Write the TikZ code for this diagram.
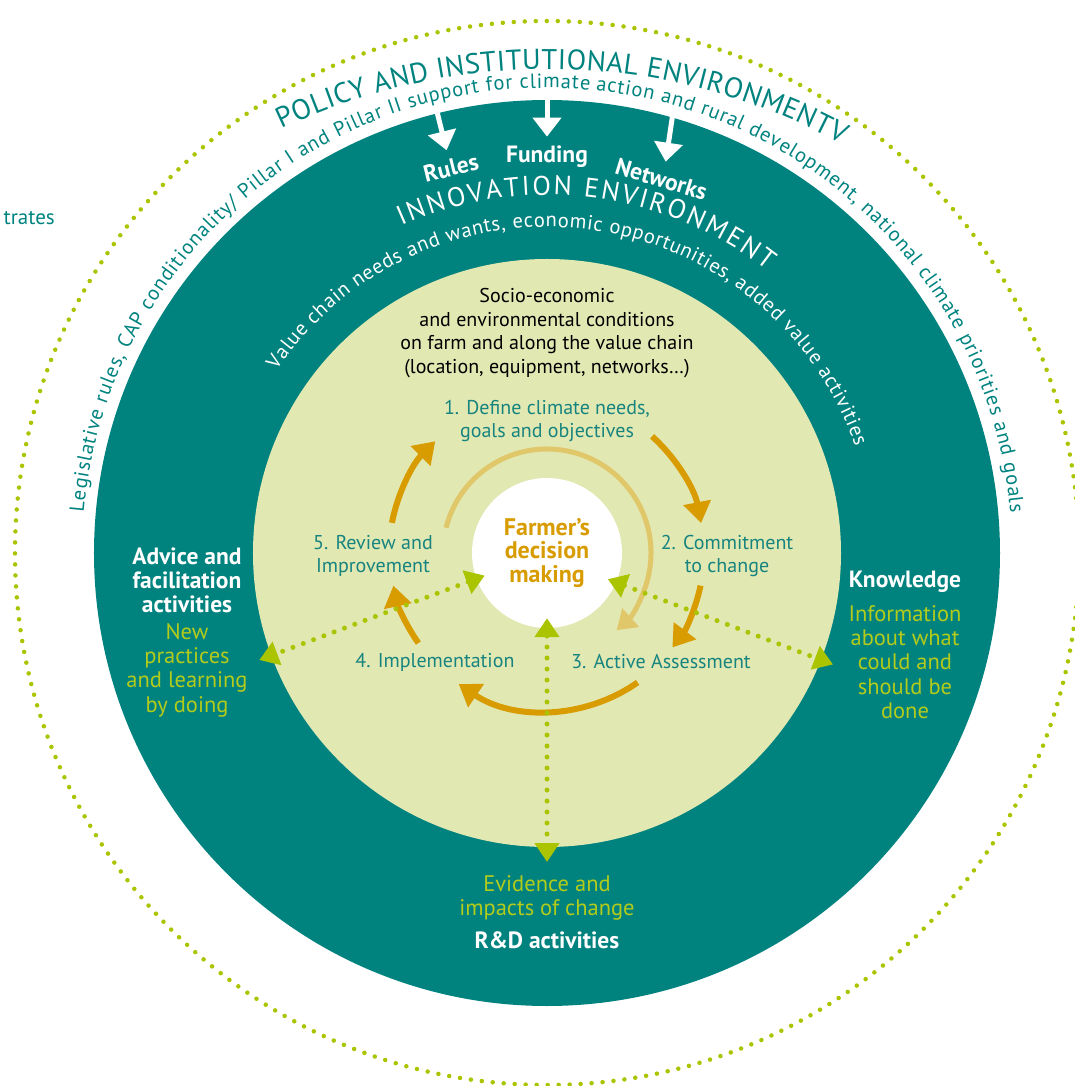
\documentclass[tikz,border=0pt]{standalone}
\usepackage{fontspec}
\setmainfont{PT Sans}
\usetikzlibrary{arrows.meta,decorations.text,positioning}
\definecolor{ringteal}{HTML}{00837F}
\definecolor{discgreen}{HTML}{E2E8B2}
\definecolor{limedot}{HTML}{ABC400}
\definecolor{limetext}{HTML}{B3CB1A}
\definecolor{cyclegold}{HTML}{D89C00}
\definecolor{palegold}{HTML}{E0C76A}
\definecolor{stepteal}{HTML}{17847F}
\begin{document}
\begin{tikzpicture}[x=1pt,y=1pt,
  cycle/.style={line width=6pt, cyclegold, -{Triangle[width=27pt,length=21pt]}},
  link/.style={limedot, line width=5pt, line cap=round, dash pattern=on 0pt off 11pt,
    {Triangle[width=24pt,length=19pt]}-{Triangle[width=24pt,length=19pt]}},
  inflow/.style={white, line width=5pt, -{Triangle[width=28pt,length=19pt]}},
  steptext/.style={text=stepteal, font=\fontsize{20}{23}\selectfont, align=center},
  headtext/.style={text=white, font=\bfseries\fontsize{23.5}{24}\selectfont, align=center},
  gaintext/.style={text=limetext, font=\fontsize{22.5}{24.3}\selectfont, align=center},
  arctext/.style={decorate, decoration={text along path, text align={fit to path}, text color=#1}},
]
\useasboundingbox (-547,-533) rectangle (528,553);
% rings
\draw[limedot, line width=4.5pt, line cap=round, dash pattern=on 0pt off 11pt] (0,0) circle (532);
\fill[ringteal] (0,0) circle (453);
\fill[discgreen] (0,0) circle (294);
\node[circle, fill=white, minimum size=150pt, inner sep=0pt, text=cyclegold,
  font=\bfseries\fontsize{24}{23.5}\selectfont, align=center] (farmer) at (0,0) {Farmer's\\decision\\making};
% texts along the rings
\path[arctext=ringteal, decoration={text={|\fontsize{28.5}{28}\selectfont|POLICY AND INSTITUTIONAL ENVIRONMENTV}}]
  ([shift={(0,-132)}]115.5:616) arc[start angle=115.5, end angle=61.5, radius=616];
\path[arctext=ringteal, decoration={text={|\fontsize{20.5}{20}\selectfont|Legislative rules, CAP conditionality/ Pillar I and Pillar II support for climate action and rural development, national climate priorities and goals}}]
  (175:465) arc[start angle=175, end angle=5, radius=465];
\path[arctext=white, decoration={text={|\fontsize{27}{27}\selectfont|INNOVATION ENVIRONMENT}}]
  (114:358) arc[start angle=114, end angle=52, radius=358];
\path[arctext=white, decoration={text={|\fontsize{20.5}{20}\selectfont|Value chain needs and wants, economic opportunities, added value activities}}]
  (146:326) arc[start angle=146, end angle=19, radius=326];
\node[text=ringteal, font=\fontsize{21}{21}\selectfont, anchor=east, inner sep=0pt] (cutoff) at (-492,335) {trates};
% policy inputs
\node[headtext, rotate=14] (rules) at (104:397) {Rules};
\node[headtext] (funding) at (90:396) {Funding};
\node[headtext, rotate=-17] (networks) at (73:391) {Networks};
\coordinate (rulesin) at (104:456);
\coordinate (fundingin) at (90:456);
\coordinate (networksin) at (74:456);
\draw[inflow, shorten >=6pt] (rulesin) -- (rules.north);
\draw[inflow, shorten >=6pt] (fundingin) -- (funding.north);
\draw[inflow, shorten >=6pt] (networksin) -- (networks.north);
% farm conditions and steps
\node[font=\fontsize{20}{23.7}\selectfont, align=center] (conditions) at (0,220) {Socio-economic\\and environmental conditions\\on farm and along the value chain\\(location, equipment, networks\ldots)};
\node[steptext] (define) at (0,132) {1. Define climate needs,\\goals and objectives};
\node[steptext] (commit) at (180,-3) {2. Commitment\\to change};
\node[steptext] (assess) at (114,-109) {3. Active Assessment};
\node[steptext] (implement) at (-112,-109) {4. Implementation};
\node[steptext] (review) at (-174,-3) {5. Review and\\Improvement};
\draw[cycle] (48:157) arc[start angle=48, end angle=11, radius=157];
\draw[cycle] (-12:157) arc[start angle=-12, end angle=-37, radius=157];
\draw[cycle] (-55:158) arc[start angle=-55, end angle=-124, radius=158];
\draw[cycle] (-145:157) arc[start angle=-145, end angle=-168, radius=157];
\draw[cycle] (169:158) arc[start angle=169, end angle=135, radius=158];
\draw[palegold, line width=5pt, -{Triangle[width=24pt,length=19pt]}] (166:104) arc[start angle=166, end angle=-48, radius=104];
% support activities
\node[headtext] (advice) at (-360,-27) {Advice and\\facilitation\\activities};
\node[gaintext] (practices) at (-360,-117) {New\\practices\\and learning\\by doing};
\node[headtext] (knowledge) at (358,-29) {Knowledge};
\node[gaintext] (information) at (358,-109) {Information\\about what\\could and\\should be\\done};
\node[gaintext] (evidence) at (0,-345) {Evidence and\\impacts of change};
\node[headtext] (rdwork) at (0,-387) {R\&D activities};
\coordinate (toadvice) at (200.4:307);
\coordinate (toknowledge) at (-21.3:307);
\coordinate (tord) at (-90:309);
\draw[link, shorten <=-9pt] (farmer.200) -- (toadvice);
\draw[link, shorten <=-9pt] (farmer.-23) -- (toknowledge);
\draw[link, shorten <=-10pt] (farmer.south) -- (tord);
\end{tikzpicture}
\end{document}
